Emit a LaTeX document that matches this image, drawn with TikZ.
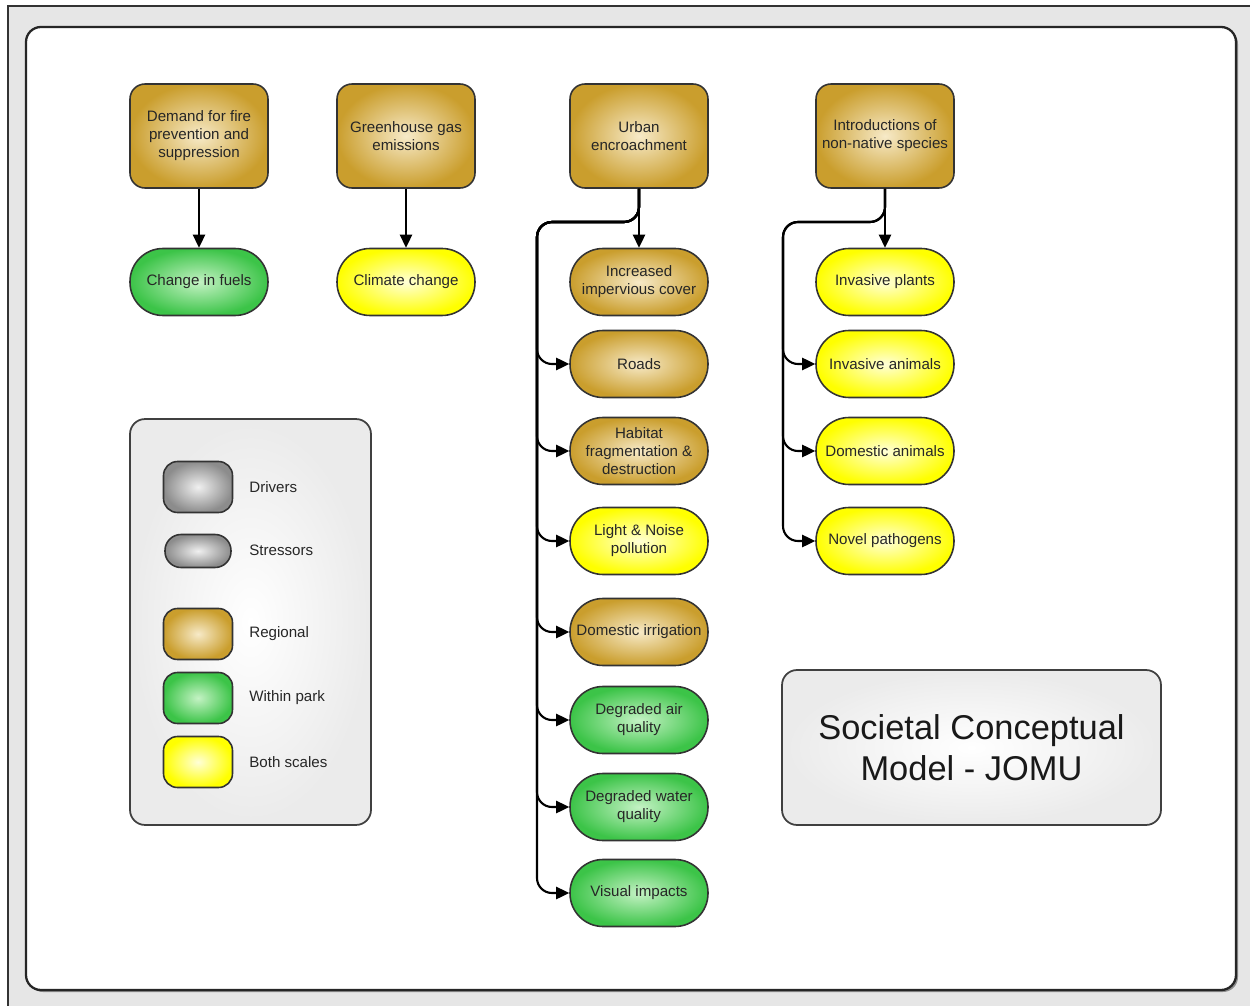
\documentclass[tikz,border=0pt]{standalone}
\usepackage{fontspec}
\setmainfont{Liberation Sans}
\usetikzlibrary{arrows.meta}
\definecolor{gold}{RGB}{202,158,45}
\definecolor{goldlight}{RGB}{247,234,200}
\definecolor{grn}{RGB}{60,196,72}
\definecolor{grnlight}{RGB}{196,242,196}
\definecolor{ylw}{RGB}{255,255,0}
\definecolor{ylwlight}{RGB}{255,255,215}
\definecolor{gry}{RGB}{140,140,140}
\definecolor{grylight}{RGB}{240,240,240}
\definecolor{bgray}{RGB}{230,230,230}
\newcommand\fs{\fontsize{8.6}{10.2}\selectfont}
\tikzset{
  base/.style={draw=black!80, line width=0.9pt, text=black!85, font=\fs, align=center, inner sep=1pt},
  driverbox/.style={base, rounded corners=0.3cm, minimum width=2.76cm, minimum height=2.08cm},
  stressbox/.style={base, rounded corners=0.66cm, minimum width=2.76cm, minimum height=1.34cm},
  regional/.style={inner color=goldlight, outer color=gold},
  withinpark/.style={inner color=grnlight, outer color=grn},
  bothscales/.style={inner color=ylwlight, outer color=ylw},
  grayish/.style={inner color=grylight, outer color=gry},
  legdriver/.style={base, rounded corners=0.28cm, minimum width=1.38cm, minimum height=1.02cm},
  legstress/.style={base, rounded corners=0.32cm, minimum width=1.32cm, minimum height=0.66cm},
  leglabel/.style={anchor=west, font=\fs, text=black!85, inner sep=0pt},
  panel/.style={draw=black!75, line width=1pt, rounded corners=0.3cm, inner color=white, outer color=black!8},
  conn/.style={line width=1.2pt, -{Triangle[length=7.5pt,width=7pt]}, rounded corners=0.3cm}
}
\begin{document}
\begin{tikzpicture}[x=0.02cm,y=-0.02cm]
\useasboundingbox (0,0) rectangle (1250,1006);
\fill[white] (0,0) rectangle (1250,1006);
\fill[bgray] (8,6) rectangle (1250,1006);
\draw[black!80, line width=1.2pt] (8,1006) -- (8,6) -- (1250,6);
\fill[black!45, rounded corners=0.3cm] (28,29) rectangle (1238,992);
\draw[black!85, line width=1.3pt, fill=white, rounded corners=0.3cm] (26,27) rectangle (1236,990);

% drivers
\node[driverbox, regional] (fire) at (199,136) {Demand for fire\\prevention and\\suppression};
\node[driverbox, regional] (ghg) at (406,136) {Greenhouse gas\\emissions};
\node[driverbox, regional] (urban) at (639,136) {Urban\\encroachment};
\node[driverbox, regional] (intro) at (885,136) {Introductions of\\non-native species};

% stressors
\node[stressbox, withinpark] (fuels) at (199,282) {Change in fuels};
\node[stressbox, bothscales] (climate) at (406,282) {Climate change};
\node[stressbox, regional] (imperv) at (639,282) {Increased\\impervious cover};
\node[stressbox, regional] (roads) at (639,364) {Roads};
\node[stressbox, regional] (habitat) at (639,451) {Habitat\\fragmentation \&\\destruction};
\node[stressbox, bothscales] (light) at (639,541) {Light \& Noise\\pollution};
\node[stressbox, regional] (irrig) at (639,632) {Domestic irrigation};
\node[stressbox, withinpark] (air) at (639,720) {Degraded air\\quality};
\node[stressbox, withinpark] (water) at (639,807) {Degraded water\\quality};
\node[stressbox, withinpark] (visual) at (639,893) {Visual impacts};
\node[stressbox, bothscales] (plants) at (885,282) {Invasive plants};
\node[stressbox, bothscales] (animals) at (885,364) {Invasive animals};
\node[stressbox, bothscales] (domestic) at (885,451) {Domestic animals};
\node[stressbox, bothscales] (pathogens) at (885,541) {Novel pathogens};

% connectors
\draw[conn] (fire.south) -- (fuels.north);
\draw[conn] (ghg.south) -- (climate.north);
\draw[conn] (urban.south) -- (imperv.north);
\foreach \n in {roads,habitat,light,irrig,air,water,visual}
  \draw[conn] (urban.south) -- (639,222) -- (537,222) |- (\n.west);
\draw[conn] (intro.south) -- (plants.north);
\foreach \n in {animals,domestic,pathogens}
  \draw[conn] (intro.south) -- (885,222) -- (783,222) |- (\n.west);

% legend
\node[panel, minimum width=4.82cm, minimum height=8.12cm] (legend) at (250.5,622) {};
\node[legdriver, grayish] (ld) at (198,487) {};
\node[legstress, grayish] (ls) at (198,551) {};
\node[legdriver, regional] (lr) at (198,634) {};
\node[legdriver, withinpark] (lw) at (198,698) {};
\node[legdriver, bothscales] (lb) at (198,762) {};
\node[leglabel] (ldt) at (249,487) {Drivers};
\node[leglabel] (lst) at (249,550) {Stressors};
\node[leglabel] (lrt) at (249,634) {Regional};
\node[leglabel] (lwt) at (249,698) {Within park};
\node[leglabel] (lbt) at (249,762) {Both scales};

% title
\node[panel, minimum width=7.58cm, minimum height=3.1cm, align=center, text=black!90,
      font=\fontsize{19.6}{23}\selectfont] (title) at (971.5,747.5) {Societal Conceptual\\Model - JOMU};
\end{tikzpicture}
\end{document}
